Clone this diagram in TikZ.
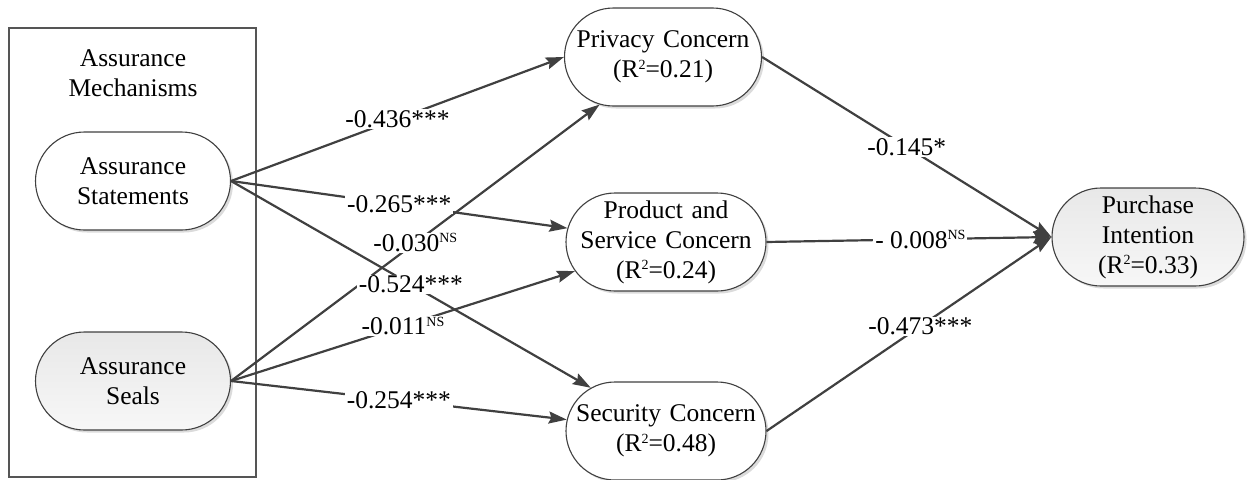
\documentclass[tikz,border=0pt]{standalone}
\usepackage{fontspec}
\setmainfont{Liberation Serif}
\usetikzlibrary{shapes.misc,arrows.meta,shadows}

\definecolor{linegray}{HTML}{404040}
\definecolor{boxgray}{HTML}{555555}
\definecolor{shadetop}{HTML}{E8E8E8}
\definecolor{shadebot}{HTML}{F7F7F7}

% small raised text for R^2 and NS marks
\newcommand\supmark[1]{\raisebox{8.5pt}{\fontsize{14pt}{14pt}\selectfont #1}}
% a centred line that may run over the straight part of the shape
\newcommand\fitline[1]{\makebox[100pt]{#1}}

\begin{document}
\begin{tikzpicture}[x=1pt,y=-1pt,
  font=\fontsize{25.5pt}{30pt}\selectfont,
  construct/.style={rounded rectangle, draw=linegray, line width=1.1pt,
    fill=white, minimum height=98pt, minimum width=197pt,
    inner xsep=0pt, inner ysep=2pt,
    text width=100pt, align=center,
    drop shadow={shadow xshift=2.5pt, shadow yshift=-2.5pt, opacity=0.14, fill=black}},
  greyconstruct/.style={construct, top color=shadetop, bottom color=shadebot},
  edge/.style={draw=linegray, line width=2.2pt,
    -{Stealth[length=18pt, width=12pt, inset=2.5pt]}},
  lbl/.style={fill=white, inner xsep=2pt, inner ysep=1pt, text=black}
]
\useasboundingbox (0,0) rectangle (1247,479);

% group frame and its title
\node[draw=boxgray, line width=1.3pt, minimum width=247pt, minimum height=449pt,
      inner sep=0pt] (group) at (132.5,252.5) {};
\node[align=center] (grouptitle) at (133,73) {Assurance\\Mechanisms};

% constructs
\node[construct, minimum width=195pt] (stm) at (133,181) {\fitline{Assurance}\\\fitline{Statements}};
\node[greyconstruct, minimum width=195pt] (sel) at (133,381) {\fitline{Assurance}\\\fitline{Seals}};
\node[construct] (prv) at (663,57) {\fitline{Privacy Concern}\\\fitline{(R\supmark{2}=0.21)}};
\node[construct, minimum width=200pt] (prd) at (666,242) {\fitline{Product and}\\\fitline{Service Concern}\\\fitline{(R\supmark{2}=0.24)}};
\node[construct, minimum width=200pt] (sec) at (666,431) {\fitline{Security Concern}\\\fitline{(R\supmark{2}=0.48)}};
\node[greyconstruct, minimum width=192pt] (pur) at (1148,237)
  {\fitline{Purchase}\\\fitline{Intention}\\\fitline{(R\supmark{2}=0.33)}};

% paths
\draw[edge] (stm.east) -- (prv.west);
\draw[edge] (stm.east) -- (prd);
\draw[edge] (stm.east) -- (sec);
\draw[edge] (sel.east) -- (prv);
\draw[edge] (sel.east) -- (prd);
\draw[edge] (sel.east) -- (sec);
\draw[edge] (prv.east) -- (pur.west);
\draw[edge] (prd.east) -- (pur.west);
\draw[edge] (sec.east) -- (pur.west);

% path coefficients
\path (stm.east) -- (prv.west) node[lbl, pos=0.5] {-0.436***};
\path (stm.east) -- (prd) node[lbl, pos=0.5] {-0.265***};
\path (sel.east) -- (prv) node[lbl, pos=0.5] {-0.030\supmark{NS}};
\path (stm.east) -- (sec) node[lbl, pos=0.5] {-0.524***};
\path (sel.east) -- (prd) node[lbl, pos=0.5] {-0.011\supmark{NS}};
\path (sel.east) -- (sec) node[lbl, pos=0.5] {-0.254***};
\path (prv.east) -- (pur.west) node[lbl, pos=0.5] {-0.145*};
\path (prd.east) -- (pur.west) node[lbl, pos=0.54] {- 0.008\supmark{NS}};
\path (sec.east) -- (pur.west) node[lbl, pos=0.54] {-0.473***};
\end{tikzpicture}
\end{document}
